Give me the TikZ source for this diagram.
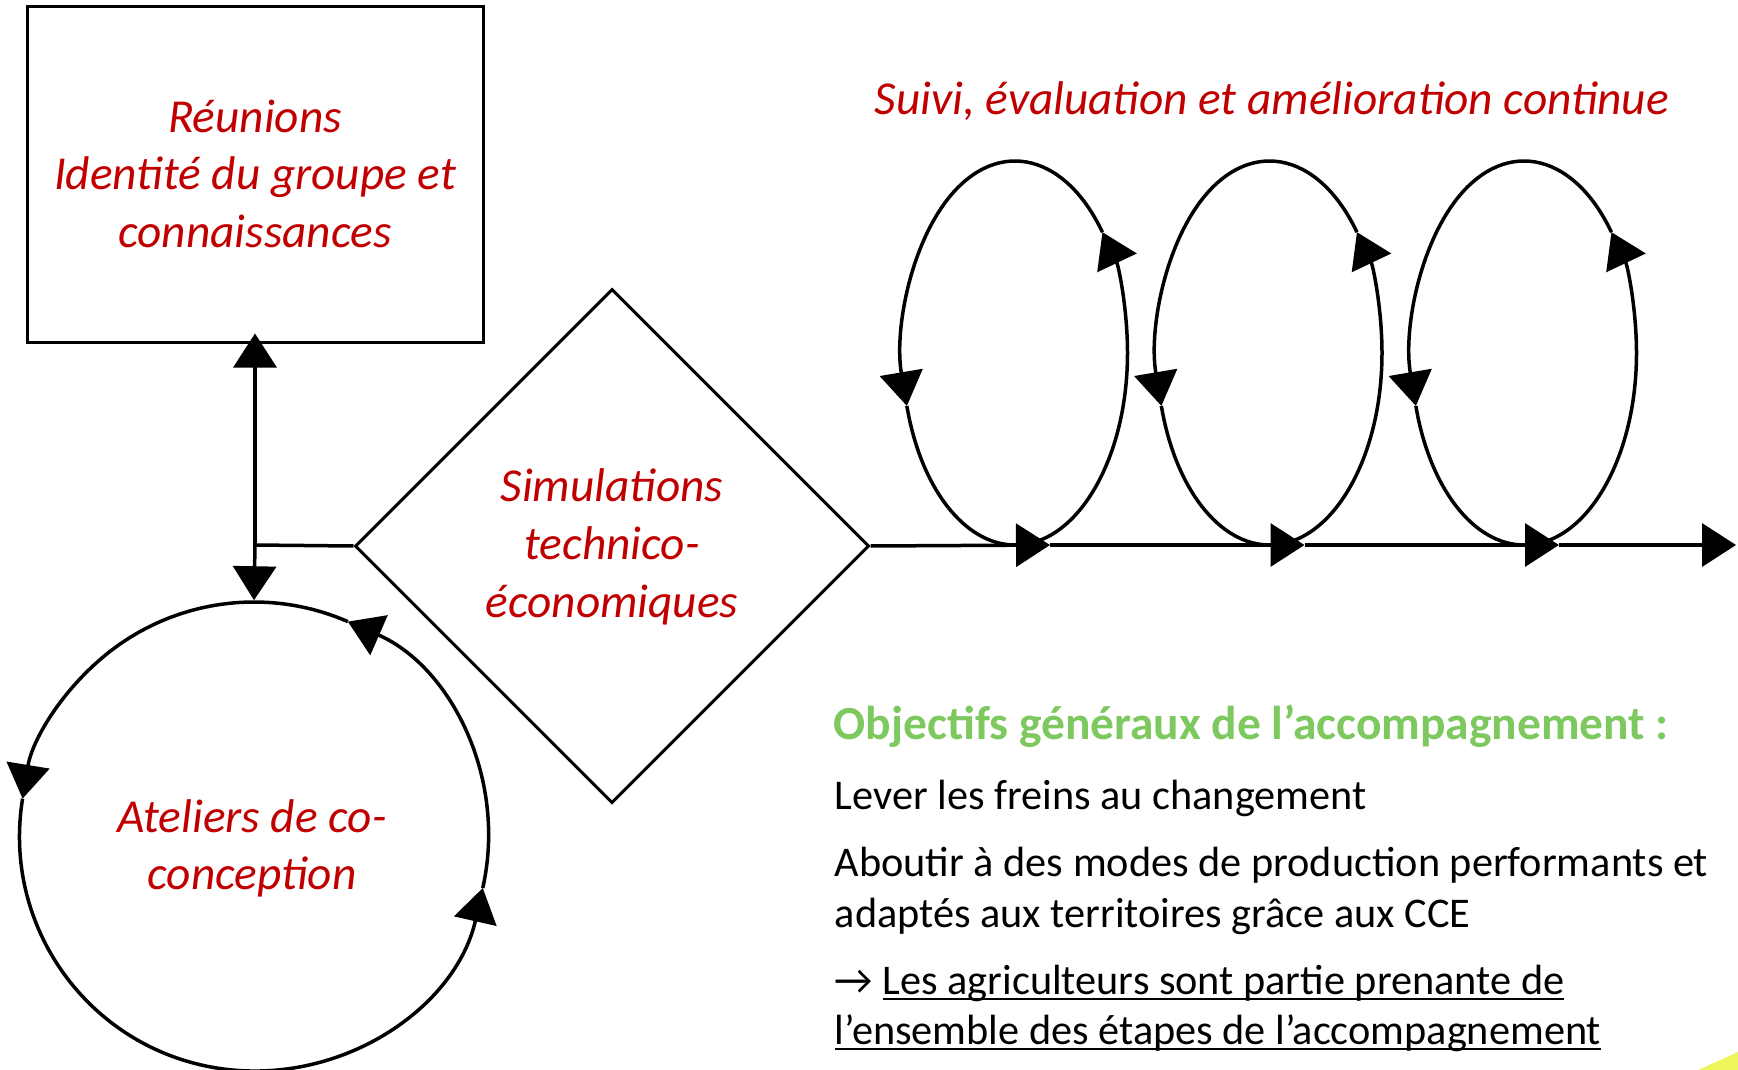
\documentclass[tikz,border=0pt]{standalone}
\usepackage{fontspec}
\setmainfont{Carlito}
\usetikzlibrary{arrows.meta,shapes.geometric}
\definecolor{redtxt}{RGB}{192,0,0}
\definecolor{greentxt}{RGB}{125,200,95}
\definecolor{cornery}{RGB}{238,245,90}
\newcommand\ulbox[1]{\setbox0\hbox{#1}\rlap{\rule[-6pt]{\wd0}{2pt}}\box0}
\begin{document}
\begin{tikzpicture}[x=1pt,y=1pt,line width=3.5pt,
  arr/.style={-{Triangle[length=34pt,width=43pt]}},
  redt/.style={text=redtxt, font=\fontsize{47.3}{57.5}\selectfont\itshape, align=center, inner sep=0pt, anchor=base},
  blackt/.style={font=\fontsize{42.3}{51}\selectfont, align=left, anchor=base west, inner sep=0pt},
  greent/.style={font=\fontsize{47.5}{54}\selectfont\bfseries, text=greentxt, anchor=base west, inner sep=0pt},
]
\useasboundingbox (0,0) rectangle (1738,-1070);
\fill[cornery] (1698,-1070) -- (1738,-1052) -- (1738,-1070) -- cycle;

% box
\node[draw, rectangle, minimum width=456pt, minimum height=335pt, inner sep=0pt, line width=3pt] (reun) at (255,-174.5) {};
\node[redt] (reuntxt) at (255,-247) {Réunions\\Identité du groupe et\\connaissances};

% diamond
\node[draw, diamond, minimum width=514pt, minimum height=514pt, inner sep=0pt, line width=3pt] (simu) at (612,-546) {};
\node[redt, font=\fontsize{47.3}{58}\selectfont\itshape] (simutxt) at (612,-617) {Simulations\\technico-\\économiques};

% circle
\node[circle, minimum size=469pt, inner sep=0pt] (atel) at (254,-836.5) {};
\node[redt, font=\fontsize{47.3}{57}\selectfont\itshape] (ateltxt) at (252,-889) {Ateliers de co-\\conception};

\draw[arr] ([shift={(-12.7:234.5)}]atel.center) arc[start angle=-12.7, end angle=66.4, radius=234.5];
\draw[arr] ([shift={(66.4:234.5)}]atel.center) arc[start angle=66.4, end angle=170.7, radius=234.5];
\draw[arr] ([shift={(170.7:234.5)}]atel.center) arc[start angle=170.7, end angle=347.3, radius=234.5];

% connectors left
\coordinate (junc) at (255,-545);
\draw[arr] (junc) -- ([yshift=10pt]reun.south);
\draw[arr] (junc) -- (atel.north);
\draw (junc) -- (simu.west);

% main line
\coordinate (m1) at (1050,-545);
\coordinate (m2) at (1304.5,-545);
\coordinate (m3) at (1559,-545);
\coordinate (mend) at (1736,-545);
\draw[arr] (simu.east) -- (m1);
\draw[arr] (m1) -- (m2);
\draw[arr] (m2) -- (m3);
\draw[arr] (m3) -- (mend);

% loops
\foreach \cx/\nm in {1015/l1, 1269.5/l2, 1524/l3}{
  \coordinate (\nm) at (\cx,-353);
  \draw[arr] ([shift={(-90:112.5 and 192)}]\nm) arc[start angle=-90, end angle=39, x radius=112.5, y radius=192];
  \draw[arr] ([shift={(39:112.5 and 192)}]\nm) arc[start angle=39, end angle=196, x radius=112.5, y radius=192];
  \draw ([shift={(196:112.5 and 192)}]\nm) arc[start angle=196, end angle=270, x radius=112.5, y radius=192];
}

% texts right
\node[redt, anchor=base west] (suivi) at (873,-115) {Suivi, évaluation et amélioration continue};
\node[greent] (obj) at (832,-739) {Objectifs généraux de l’accompagnement :};
\node[blackt] (obja) at (833,-809) {Lever les freins au changement};
\node[blackt] (objb) at (833,-927) {Aboutir à des modes de production performants et\\adaptés aux territoires grâce aux CCE};
\node[blackt, font=\fontsize{42.3}{50}\selectfont] (objc) at (833,-1044) {→ \ulbox{Les agriculteurs sont partie prenante de}\\\ulbox{l’ensemble des étapes de l’accompagnement}};
\end{tikzpicture}
\end{document}
